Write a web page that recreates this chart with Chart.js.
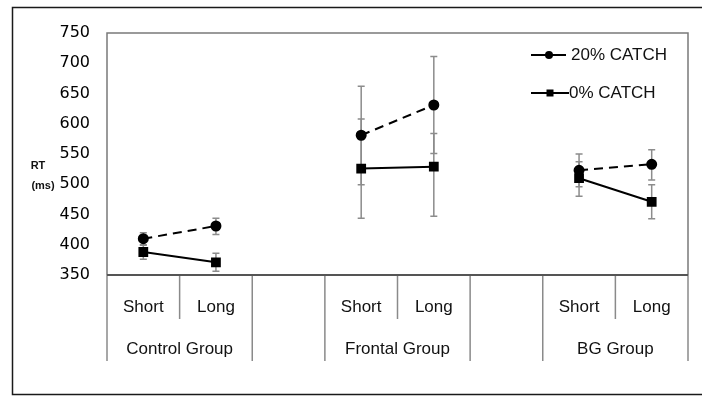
<!DOCTYPE html>
<html><head><meta charset="utf-8">
<script src="https://cdn.jsdelivr.net/npm/chart.js@4"></script>
<style>html,body{margin:0;padding:0;background:#fff}#wrap{width:702px;height:396px;position:relative}</style>
</head><body><div id="wrap"><canvas id="c" width="702" height="396"></canvas></div>
<script>
// ---- data ----
const categories = ['Short', 'Long', '', 'Short', 'Long', '', 'Short', 'Long'];
const groups = ['Control Group', 'Frontal Group', 'BG Group'];
const groupSlots = [[0, 1], [3, 4], [6, 7]];
const seriesNames = ['20% CATCH', '0% CATCH'];
const catch20 = [410, 431, null, 581, 631, null, 523, 533];
const catch20Low = [400, 417, null, 499, 551, null, 496, 507];
const catch20High = [420, 444, null, 662, 711, null, 550, 557];
const catch0 = [388, 371, null, 526, 529, null, 510, 471];
const catch0Low = [376, 356, null, 444, 447, null, 480, 443];
const catch0High = [399, 386, null, 608, 584, null, 537, 499];
const yMin = 350, yMax = 750, yStep = 50;
const yTitle = ['RT', '(ms)'];

const FONT = '"Liberation Sans", Arial, sans-serif';

const errorBars = {
  id: 'errorBars',
  beforeDatasetsDraw(chart) {
    const ctx = chart.ctx, x = chart.scales.x, y = chart.scales.y;
    const sets = [[catch20Low, catch20High], [catch0Low, catch0High]];
    ctx.save();
    ctx.strokeStyle = '#8c8c8c';
    ctx.lineWidth = 1.5;
    sets.forEach(([lo, hi]) => {
      lo.forEach((v, i) => {
        if (v === null) return;
        const px = x.getPixelForValue(i);
        const y1 = y.getPixelForValue(lo[i]), y2 = y.getPixelForValue(hi[i]);
        ctx.beginPath();
        ctx.moveTo(px, y1); ctx.lineTo(px, y2);
        ctx.moveTo(px - 3.5, y1); ctx.lineTo(px + 3.5, y1);
        ctx.moveTo(px - 3.5, y2); ctx.lineTo(px + 3.5, y2);
        ctx.stroke();
      });
    });
    ctx.restore();
  }
};

const frame = {
  id: 'frame',
  afterDraw(chart) {
    const ctx = chart.ctx, a = chart.chartArea, x = chart.scales.x;
    ctx.save();
    // outer frame
    ctx.strokeStyle = '#1a1a1a';
    ctx.lineWidth = 1.5;
    ctx.strokeRect(12.5, 7.5, 720, 387);
    // plot box
    ctx.strokeStyle = '#7a7a7a';
    ctx.lineWidth = 1.5;
    ctx.beginPath();
    ctx.moveTo(a.left, a.bottom); ctx.lineTo(a.left, a.top);
    ctx.lineTo(a.right, a.top); ctx.lineTo(a.right, a.bottom);
    ctx.stroke();
    // category separators
    const full = [0, 2, 3, 5, 6, 8], shortSep = [1, 4, 7];
    ctx.strokeStyle = '#8a8a8a';
    ctx.lineWidth = 1.5;
    ctx.beginPath();
    full.forEach(k => { const px = x.getPixelForValue(k - 0.5); ctx.moveTo(px, a.bottom); ctx.lineTo(px, 361); });
    shortSep.forEach(k => { const px = x.getPixelForValue(k - 0.5); ctx.moveTo(px, a.bottom); ctx.lineTo(px, 319); });
    ctx.stroke();
    // axis line
    ctx.strokeStyle = '#555';
    ctx.lineWidth = 2;
    ctx.beginPath();
    ctx.moveTo(a.left, a.bottom); ctx.lineTo(a.right, a.bottom);
    ctx.stroke();
    // group labels
    ctx.fillStyle = '#111';
    ctx.font = '17px ' + FONT;
    ctx.textAlign = 'center';
    ctx.textBaseline = 'middle';
    groups.forEach((g, i) => {
      const [s, e] = groupSlots[i];
      const cx = (x.getPixelForValue(s) + x.getPixelForValue(e)) / 2;
      ctx.fillText(g, cx, 349);
    });
    // y title
    ctx.font = 'bold 11px ' + FONT;
    ctx.fillText(yTitle[0], 38, 166);
    ctx.fillText(yTitle[1], 43, 186);
    // legend
    const legendY = [55, 93];
    chart.data.datasets.forEach((ds, i) => {
      const ly = legendY[i];
      ctx.strokeStyle = '#000';
      ctx.lineWidth = 2;
      ctx.setLineDash([]);
      ctx.beginPath();
      if (i === 0) {
        ctx.moveTo(531, ly); ctx.lineTo(542, ly);
        ctx.moveTo(556, ly); ctx.lineTo(566, ly);
      } else {
        ctx.moveTo(531, ly); ctx.lineTo(569, ly);
      }
      ctx.stroke();
      ctx.fillStyle = '#000';
      if (i === 0) {
        ctx.beginPath(); ctx.arc(549, ly, 4, 0, Math.PI * 2); ctx.fill();
        ctx.fillRect(542, ly - 1, 14, 2);
      } else {
        ctx.fillRect(546.5, ly - 3.5, 7, 7);
      }
      ctx.fillStyle = '#111';
      ctx.font = '17px ' + FONT;
      ctx.textAlign = 'left';
      ctx.fillText(ds.label, i === 0 ? 571 : 569, ly);
    });
    ctx.restore();
  }
};

new Chart(document.getElementById('c'), {
  type: 'line',
  data: {
    labels: categories,
    datasets: [
      {
        label: seriesNames[0], data: catch20,
        borderColor: '#000', borderWidth: 2, borderDash: [9, 6],
        pointStyle: 'circle', pointRadius: 4.5, pointBackgroundColor: '#000', pointBorderColor: '#000',
        spanGaps: false
      },
      {
        label: seriesNames[1], data: catch0,
        borderColor: '#000', borderWidth: 2,
        pointStyle: 'rect', pointRadius: 5.5, pointBackgroundColor: '#000', pointBorderColor: '#000',
        spanGaps: false
      }
    ]
  },
  options: {
    responsive: false, animation: false, devicePixelRatio: 1,
    layout: { padding: { left: 0, right: 14, top: 33, bottom: 0 } },
    plugins: { legend: { display: false }, tooltip: { enabled: false } },
    elements: { line: { tension: 0 } },
    scales: {
      x: {
        type: 'category', offset: true,
        grid: { display: false, drawTicks: false },
        border: { display: false },
        ticks: { color: '#111', font: { family: FONT, size: 17 }, padding: 22, autoSkip: false, maxRotation: 0 },
        afterFit(s) { s.height = 121; }
      },
      y: {
        min: yMin, max: yMax,
        grid: { display: false, drawTicks: false },
        border: { display: false },
        ticks: { stepSize: yStep, color: '#000', font: { family: '"DejaVu Sans", sans-serif', size: 16 }, padding: 17 },
        afterFit(s) { s.width = 107; }
      }
    }
  },
  plugins: [errorBars, frame]
});
</script></body></html>
